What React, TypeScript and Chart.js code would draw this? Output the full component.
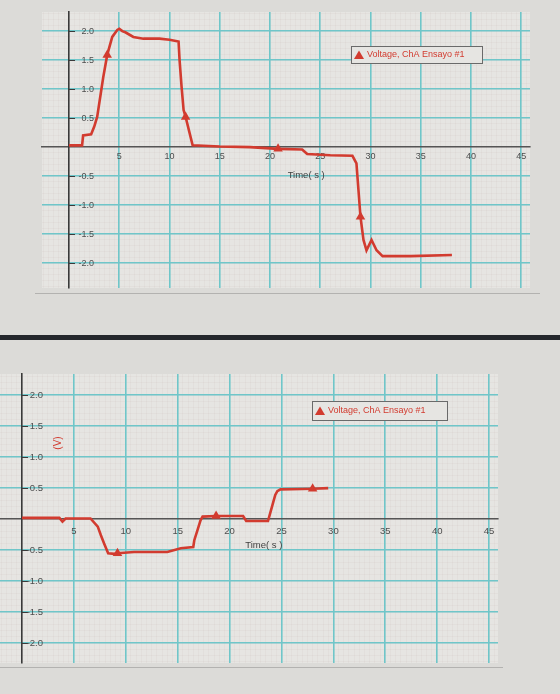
import React, { useEffect, useRef } from "react";
import { Chart, registerables } from "chart.js";

Chart.register(...registerables);

// ---------- data ----------
const SERIES_LABEL = "Voltage, ChA Ensayo #1";
const X_TITLE = "Time( s )";
const Y_TITLE = "(V)";
const X_TICK_STEP = 5;
const Y_TICK_STEP = 0.5;

const TOP_TIME = [
  0, 1.3, 1.4, 2.2, 2.5, 2.8, 3.1, 3.4, 3.8, 4.3, 4.8, 5.0, 5.3, 5.6, 6.4, 7.4, 9.0, 10.0,
  10.9, 11.0, 11.2, 11.4, 11.6, 12.0, 12.3, 15.0, 18.0, 20.8, 23.2, 23.7, 26.0, 28.2, 28.6,
  28.8, 29.0, 29.3, 29.6, 30.1, 30.6, 31.2, 34.0, 38.1,
];
const TOP_VOLTAGE = [
  0.03, 0.03, 0.2, 0.22, 0.35, 0.52, 0.86, 1.2, 1.59, 1.9, 2.02, 2.04, 2.0, 1.98, 1.9, 1.87,
  1.87, 1.85, 1.82, 1.5, 1.04, 0.64, 0.52, 0.24, 0.03, 0.01, 0.0, -0.03, -0.04, -0.12, -0.14,
  -0.15, -0.28, -0.74, -1.2, -1.6, -1.78, -1.6, -1.78, -1.88, -1.88, -1.86,
];
const TOP_MARKER_TIMES = [3.8, 11.6, 20.8, 29.0];

const BOTTOM_TIME = [
  0, 3.6, 3.9, 4.2, 6.6, 7.3, 7.6, 7.9, 8.3, 8.9, 9.2, 10.8, 14.0, 15.3, 16.5, 16.6, 16.9,
  17.2, 17.4, 18.7, 21.3, 21.6, 23.7, 24.0, 24.2, 24.4, 24.6, 24.9, 28.0, 29.5,
];
const BOTTOM_VOLTAGE = [
  0.02, 0.02, -0.04, 0.01, 0.01, -0.12, -0.26, -0.39, -0.55, -0.56, -0.55, -0.53, -0.53, -0.47,
  -0.45, -0.34, -0.18, -0.02, 0.04, 0.05, 0.05, -0.03, -0.03, 0.15, 0.27, 0.39, 0.45, 0.48,
  0.49, 0.5,
];
const BOTTOM_MARKER_TIMES = [9.2, 18.7, 28.0];

// ---------- styles ----------
const PAGE_BG = "#dcdbd8";
const PLOT_BG = "#e6e5e2";
const TEAL = "#6fc6c9";
const MINOR = "rgba(185,160,160,0.14)";
const RED = "#d23b2f";
const TICK_COLOR = "#4d4d4d";
const FONT = "'Liberation Sans', Arial, sans-serif";

type PanelCfg = {
  height: number;
  padding: { left: number; right: number; top: number; bottom: number };
  xMin: number;
  xMax: number;
  yMin: number;
  yMax: number;
  times: number[];
  volts: number[];
  markers: number[];
  tickFont: number;
  xLabelPad: number;
  yLabelOffset: number;
  legend: { x: number; y: number; w: number; h: number };
  title: { value: number; dy: number };
  yTitle: { x: number; y: number } | null;
  frame: { x1: number; x2: number; y: number };
};

const overlayPlugin = {
  id: "overlay",
  beforeDraw(chart: any, _args: any, opts: any) {
    const { ctx, chartArea: a } = chart;
    ctx.save();
    ctx.fillStyle = PAGE_BG;
    ctx.fillRect(0, 0, chart.width, chart.height);
    ctx.fillStyle = PLOT_BG;
    ctx.fillRect(a.left, a.top, a.right - a.left, a.bottom - a.top);
    const f = opts.frame;
    ctx.strokeStyle = "#b3b2b0";
    ctx.lineWidth = 1;
    ctx.beginPath();
    ctx.moveTo(f.x1, f.y + 0.5);
    ctx.lineTo(f.x2, f.y + 0.5);
    ctx.stroke();
    ctx.restore();
  },
  afterDraw(chart: any, _args: any, opts: any) {
    const { ctx } = chart;
    const xs = chart.scales.x;
    const ys = chart.scales.y;
    ctx.save();
    // y tick labels, to the right of the y axis
    const ax = xs.getPixelForValue(0);
    ctx.font = `${opts.tickFont}px ${FONT}`;
    ctx.textAlign = "right";
    ctx.textBaseline = "middle";
    ctx.strokeStyle = "#3a3a3a";
    ctx.lineWidth = 1;
    for (const t of ys.ticks) {
      if (Math.abs(t.value) < 1e-9) continue;
      const py = ys.getPixelForValue(t.value);
      ctx.beginPath();
      ctx.moveTo(ax, Math.round(py) + 0.5);
      ctx.lineTo(ax + 6, Math.round(py) + 0.5);
      ctx.stroke();
      ctx.fillStyle = TICK_COLOR;
      ctx.fillText(Number(t.value).toFixed(1), ax + opts.yLabelOffset, py);
    }
    // legend box
    const L = opts.legend;
    ctx.fillStyle = PLOT_BG;
    ctx.fillRect(L.x, L.y, L.w, L.h);
    ctx.strokeStyle = "#6a6a6a";
    ctx.lineWidth = 1;
    ctx.strokeRect(L.x + 0.5, L.y + 0.5, L.w, L.h);
    const cy = L.y + L.h / 2 + 0.5;
    ctx.fillStyle = RED;
    ctx.beginPath();
    ctx.moveTo(L.x + 8, cy - 4.5);
    ctx.lineTo(L.x + 13, cy + 4);
    ctx.lineTo(L.x + 3, cy + 4);
    ctx.closePath();
    ctx.fill();
    ctx.font = `9px ${FONT}`;
    ctx.textAlign = "left";
    ctx.textBaseline = "middle";
    ctx.fillText(SERIES_LABEL, L.x + 16, cy);
    // x title
    ctx.fillStyle = "#3f3f3f";
    ctx.textAlign = "center";
    ctx.font = `9.5px ${FONT}`;
    ctx.fillText(X_TITLE, xs.getPixelForValue(opts.title.value), ys.getPixelForValue(0) + opts.title.dy);
    // y title
    if (opts.yTitle) {
      ctx.translate(opts.yTitle.x, opts.yTitle.y);
      ctx.rotate(-Math.PI / 2);
      ctx.fillStyle = RED;
      ctx.font = `10px ${FONT}`;
      ctx.textAlign = "center";
      ctx.fillText(Y_TITLE, 0, 0);
    }
    ctx.restore();
  },
};

function Panel({ cfg }: { cfg: PanelCfg }) {
  const ref = useRef<HTMLCanvasElement | null>(null);
  useEffect(() => {
    if (!ref.current) return;
    const points = cfg.times.map((t, i) => ({ x: t, y: cfg.volts[i] }));
    const zeroHidden = (color: string) => (ctx: any) =>
      ctx.tick && Math.abs(ctx.tick.value) < 1e-9 ? "rgba(0,0,0,0)" : color;
    const chart = new Chart(ref.current, {
      type: "line",
      data: {
        datasets: [
          {
            label: SERIES_LABEL,
            data: points,
            borderColor: RED,
            backgroundColor: RED,
            borderWidth: 2.6,
            tension: 0,
            pointStyle: "triangle",
            pointRadius: (c: any) => (c.raw && cfg.markers.includes(c.raw.x) ? 5.5 : 0),
            pointBorderWidth: 0,
            pointBackgroundColor: RED,
          } as any,
        ],
      },
      options: {
        responsive: false,
        animation: false,
        layout: { padding: cfg.padding },
        plugins: {
          legend: { display: false },
          tooltip: { enabled: false },
          overlay: {
            legend: cfg.legend,
            title: cfg.title,
            yTitle: cfg.yTitle,
            frame: cfg.frame,
            tickFont: cfg.tickFont,
            yLabelOffset: cfg.yLabelOffset,
          },
        } as any,
        scales: {
          xm: {
            type: "linear",
            min: cfg.xMin,
            max: cfg.xMax,
            position: { y: 0 } as any,
            ticks: { display: false, stepSize: 0.5, includeBounds: false },
            grid: { color: MINOR, lineWidth: 0.6, drawTicks: false },
            border: { display: false },
          },
          ym: {
            type: "linear",
            min: cfg.yMin,
            max: cfg.yMax,
            position: { x: 0 } as any,
            ticks: { display: false, stepSize: 0.1, includeBounds: false },
            grid: { color: MINOR, lineWidth: 0.6, drawTicks: false },
            border: { display: false },
          },
          x: {
            type: "linear",
            min: cfg.xMin,
            max: cfg.xMax,
            position: { y: 0 } as any,
            ticks: {
              stepSize: X_TICK_STEP,
              includeBounds: false,
              autoSkip: false,
              maxRotation: 0,
              padding: cfg.xLabelPad,
              color: TICK_COLOR,
              font: { family: FONT, size: cfg.tickFont },
              callback: (v: any) => (Math.abs(v) < 1e-9 ? "" : String(v)),
            },
            grid: { color: zeroHidden(TEAL), lineWidth: 1.6, drawTicks: false },
            border: { display: true, color: "#555555", width: 1.5 },
          },
          y: {
            type: "linear",
            min: cfg.yMin,
            max: cfg.yMax,
            position: { x: 0 } as any,
            ticks: {
              display: false,
              stepSize: Y_TICK_STEP,
              includeBounds: false,
            },
            grid: { color: zeroHidden(TEAL), lineWidth: 1.6, drawTicks: false },
            border: { display: true, color: "#3a3a3a", width: 1.6 },
          },
        } as any,
      },
      plugins: [overlayPlugin as any],
    });
    return () => chart.destroy();
  }, [cfg]);
  return <canvas ref={ref} width={560} height={cfg.height} style={{ display: "block" }} />;
}

const TOP_CFG: PanelCfg = {
  height: 335,
  padding: { left: 42, right: 30, top: 12, bottom: 47 },
  xMin: -2.69,
  xMax: 45.87,
  yMin: -2.43,
  yMax: 2.33,
  times: TOP_TIME,
  volts: TOP_VOLTAGE,
  markers: TOP_MARKER_TIMES,
  tickFont: 9,
  xLabelPad: 4,
  yLabelOffset: 25,
  legend: { x: 351, y: 46, w: 131, h: 17 },
  title: { value: 23.6, dy: 28 },
  yTitle: null,
  frame: { x1: 35, x2: 540, y: 293 },
};

const BOTTOM_CFG: PanelCfg = {
  height: 354,
  padding: { left: 0, right: 62, top: 34, bottom: 31 },
  xMin: -2.12,
  xMax: 45.86,
  yMin: -2.32,
  yMax: 2.34,
  times: BOTTOM_TIME,
  volts: BOTTOM_VOLTAGE,
  markers: BOTTOM_MARKER_TIMES,
  tickFont: 9.5,
  xLabelPad: 7,
  yLabelOffset: 21,
  legend: { x: 312, y: 61, w: 135, h: 19 },
  title: { value: 23.3, dy: 26 },
  yTitle: { x: 58, y: 103 },
  frame: { x1: 0, x2: 503, y: 327 },
};

export default function App() {
  return (
    <div
      style={{
        position: "absolute",
        left: 0,
        top: 0,
        width: 560,
        height: 694,
        overflow: "hidden",
        background: PAGE_BG,
      }}
    >
      <div style={{ position: "absolute", left: 0, top: 0, width: 560, height: 335 }}>
        <Panel cfg={TOP_CFG} />
      </div>
      <div
        style={{ position: "absolute", left: 0, top: 335, width: 560, height: 5, background: "#25272c" }}
      />
      <div style={{ position: "absolute", left: 0, top: 340, width: 560, height: 354 }}>
        <Panel cfg={BOTTOM_CFG} />
      </div>
    </div>
  );
}
